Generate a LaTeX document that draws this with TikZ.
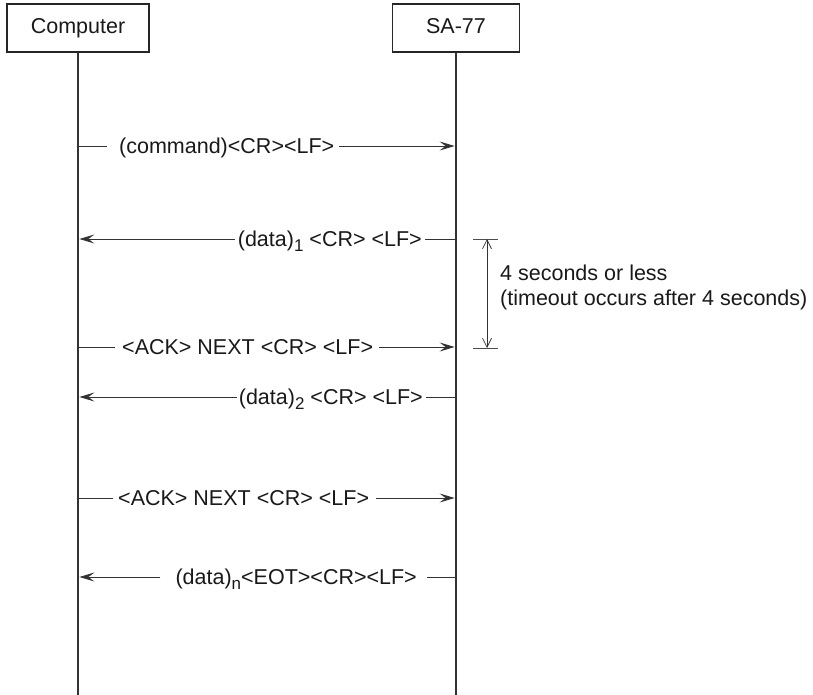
\documentclass[tikz,border=0pt]{standalone}
\usepackage{fontspec}
\setmainfont{Liberation Sans}
\usetikzlibrary{arrows.meta}
\newcommand{\lowsub}[1]{\raisebox{-0.45ex}{\fontsize{17}{17}\selectfont #1}}
\begin{document}
\begin{tikzpicture}[x=1pt,y=-1pt,
  font=\fontsize{21.5}{25}\selectfont,
  every node/.style={text=black!90},
  box/.style={draw=black!85, line width=1.8pt, minimum height=48pt, inner sep=0pt, text height=15pt, text depth=4pt},
  lifeline/.style={draw=black!80, line width=2.8pt},
  msg/.style={inner sep=0pt, text height=15pt, text depth=0pt},
  wire/.style={draw=black!80, line width=0.9pt},
  tip/.tip={Stealth[length=15pt,width=9pt,inset=6pt]},
  vtip/.tip={Straight Barb[length=9pt,width=9pt]},
  arr/.style={wire, -tip, shorten >=1.4pt},
  tick/.style={draw=black!70, line width=0.6pt},
  note/.style={inner sep=0pt, anchor=base west}]
\useasboundingbox (0,0) rectangle (813,695);

% participants
\node[box, minimum width=142pt] (comp) at (78,28) {Computer};
\node[box, minimum width=127pt] (sa) at (456,28) {SA-77};
\coordinate (compend) at (78,695);
\coordinate (saend) at (456,695);
\draw[lifeline] (comp.south) -- (compend);
\draw[lifeline] (sa.south) -- (saend);

% points on lifelines
\foreach \n/\y in {1/146,2/239,3/347,4/397,5/498,6/577}{
  \coordinate (c\n) at (78,\y);
  \coordinate (s\n) at (456,\y);
}

% 1: command ->
\node[msg, anchor=west] (m1) at (119,146) {(command)<CR><LF>};
\draw[wire] (c1) -- ([xshift=-12pt]m1.west);
\draw[arr] ([xshift=5pt]m1.east) -- (s1);

% 2: data1 <-
\node[msg, anchor=east] (m2) at (422,239) {(data)\lowsub{1} <CR> <LF>};
\draw[wire] ([xshift=3pt]m2.east) -- (s2);
\draw[arr] ([xshift=-3pt]m2.west) -- (c2);

% 3: ACK ->
\node[msg, anchor=west] (m3) at (122,347) {<ACK> NEXT <CR> <LF>};
\draw[wire] (c3) -- ([xshift=-7pt]m3.west);
\draw[arr] ([xshift=6pt]m3.east) -- (s3);

% 4: data2 <-
\node[msg, anchor=east] (m4) at (423,397) {(data)\lowsub{2} <CR> <LF>};
\draw[wire] ([xshift=3pt]m4.east) -- (s4);
\draw[arr] ([xshift=-2pt]m4.west) -- (c4);

% 5: ACK ->
\node[msg, anchor=west] (m5) at (118,498) {<ACK> NEXT <CR> <LF>};
\draw[wire] (c5) -- ([xshift=-5pt]m5.west);
\draw[arr] ([xshift=7pt]m5.east) -- (s5);

% 6: data n <-
\node[msg, anchor=east] (m6) at (417,577) {(data)\lowsub{n}<EOT><CR><LF>};
\draw[wire] ([xshift=10pt]m6.east) -- (s6);
\draw[arr] ([xshift=-15pt]m6.west) -- (c6);

% timing bracket
\coordinate (ta) at (473,239);
\coordinate (tb) at (498,239);
\coordinate (ba) at (473,348);
\coordinate (bb) at (498,348);
\coordinate (vt) at (487,239);
\coordinate (vb) at (487,348);
\draw[tick] (ta) -- (tb);
\draw[tick] (ba) -- (bb);
\draw[wire, line width=0.7pt, vtip-vtip] (vt) -- (vb);
\node[note] (n1) at (500,280.5) {4 seconds or less};
\node[note] (n2) at (500,305) {(timeout occurs after 4 seconds)};
\end{tikzpicture}
\end{document}
